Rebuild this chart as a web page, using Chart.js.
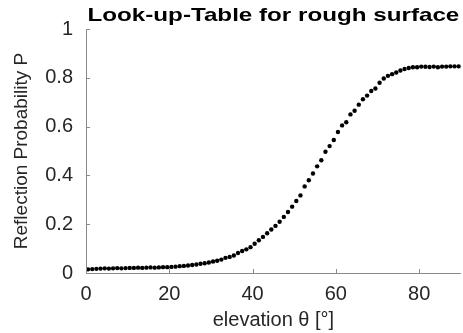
<!DOCTYPE html>
<html><head><meta charset="utf-8">
<script src="https://cdn.jsdelivr.net/npm/chart.js@4/dist/chart.umd.min.js"></script>
<style>html,body{margin:0;padding:0;background:#fff}#wrap{width:463px;height:333px}</style>
</head><body><div id="wrap"><canvas id="c" width="463" height="333"></canvas></div>
<script>
const elevation = [0.5,1.5,2.5,3.5,4.5,5.5,6.5,7.5,8.5,9.5,10.5,11.5,12.5,13.5,14.5,15.5,16.5,17.5,18.5,19.5,20.5,21.5,22.5,23.5,24.5,25.5,26.5,27.5,28.5,29.5,30.5,31.5,32.5,33.5,34.5,35.5,36.5,37.5,38.5,39.5,40.5,41.5,42.5,43.5,44.5,45.5,46.5,47.5,48.5,49.5,50.5,51.5,52.5,53.5,54.5,55.5,56.5,57.5,58.5,59.5,60.5,61.5,62.5,63.5,64.5,65.5,66.5,67.5,68.5,69.5,70.5,71.5,72.5,73.5,74.5,75.5,76.5,77.5,78.5,79.5,80.5,81.5,82.5,83.5,84.5,85.5,86.5,87.5,88.5,89.5];
const probability = [0.015,0.016,0.017,0.018,0.019,0.018,0.019,0.020,0.019,0.020,0.021,0.021,0.022,0.021,0.022,0.023,0.022,0.023,0.024,0.024,0.025,0.026,0.028,0.029,0.031,0.033,0.035,0.038,0.040,0.043,0.047,0.050,0.055,0.062,0.066,0.072,0.082,0.090,0.097,0.106,0.120,0.134,0.148,0.163,0.178,0.193,0.210,0.230,0.250,0.272,0.295,0.318,0.355,0.380,0.408,0.437,0.462,0.497,0.520,0.545,0.578,0.605,0.618,0.650,0.665,0.690,0.712,0.727,0.746,0.756,0.780,0.797,0.808,0.815,0.822,0.830,0.836,0.840,0.843,0.843,0.846,0.845,0.844,0.846,0.843,0.846,0.846,0.847,0.847,0.847];
const xTicks = [0,20,40,60,80];
const yTicks = [0,0.2,0.4,0.6,0.8,1];
const titleText = 'Look-up-Table for rough surface';
const xLabel = 'elevation \u03B8 [\u00B0]';
const yLabel = 'Reflection Probability P';

const FONT = "'Liberation Sans', Arial, Helvetica, sans-serif";
const TXT = '#262626';
const AX = '#8a8a8a';

const innerTicks = {
  id: 'innerTicks',
  afterDraw(chart) {
    const {ctx, chartArea: a, scales: {x, y}} = chart;
    ctx.save();
    ctx.strokeStyle = AX; ctx.lineWidth = 1;
    ctx.beginPath();
    ctx.moveTo(a.left + 0.5, a.top); ctx.lineTo(a.left + 0.5, a.bottom + 0.5); ctx.lineTo(a.right, a.bottom + 0.5);
    xTicks.forEach(v => { const px = Math.round(x.getPixelForValue(v)) + 0.5; ctx.moveTo(px, a.bottom); ctx.lineTo(px, a.bottom - 4); });
    yTicks.forEach(v => { const py = Math.round(y.getPixelForValue(v)) + 0.5; ctx.moveTo(a.left, py); ctx.lineTo(a.left + 4, py); });
    ctx.stroke();
    // title, centred over the plot area, widened like the original figure
    ctx.font = "bold 19px " + FONT;
    ctx.fillStyle = '#000';
    ctx.textBaseline = 'alphabetic';
    ctx.textAlign = 'center';
    const w = ctx.measureText(titleText).width;
    const target = (a.right - a.left) - 3;
    const sx = target / w;
    ctx.translate((a.left + a.right) / 2, 20.5);
    ctx.scale(sx, 1);
    ctx.fillText(titleText, 0, 0);
    ctx.restore();
  }
};

new Chart(document.getElementById('c'), {
  type: 'scatter',
  data: { datasets: [{
    data: elevation.map((e, i) => ({x: e, y: probability[i]})),
    backgroundColor: '#000', borderColor: '#000', pointRadius: 2.2, pointHoverRadius: 2.2, borderWidth: 0
  }]},
  options: {
    responsive: false, animation: false, devicePixelRatio: 1,
    layout: { padding: { top: 29, right: 2, left: 0, bottom: 0 } },
    plugins: { legend: { display: false }, tooltip: { enabled: false }, title: { display: false } },
    scales: {
      x: {
        type: 'linear', min: 0, max: 90,
        afterBuildTicks: s => { s.ticks = xTicks.map(v => ({value: v})); },
        afterFit: s => { s.height = 60; },
        ticks: { color: TXT, font: { family: FONT, size: 20 }, padding: 1, includeBounds: false },
        grid: { display: false }, border: { display: false },
        title: { display: true, text: xLabel, color: TXT, font: { family: FONT, size: 20 }, padding: { top: 0, bottom: 1 } }
      },
      y: {
        type: 'linear', min: 0, max: 1,
        afterBuildTicks: s => { s.ticks = yTicks.map(v => ({value: v})); },
        afterFit: s => { s.width = 86; },
        ticks: { color: TXT, font: { family: FONT, size: 20 }, padding: 5, callback: v => String(Math.round(v * 10) / 10) },
        grid: { display: false }, border: { display: false },
        title: { display: true, text: yLabel, color: TXT, font: { family: FONT, size: 19 }, padding: { top: 10, bottom: 0 } }
      }
    }
  },
  plugins: [innerTicks]
});
</script></body></html>
